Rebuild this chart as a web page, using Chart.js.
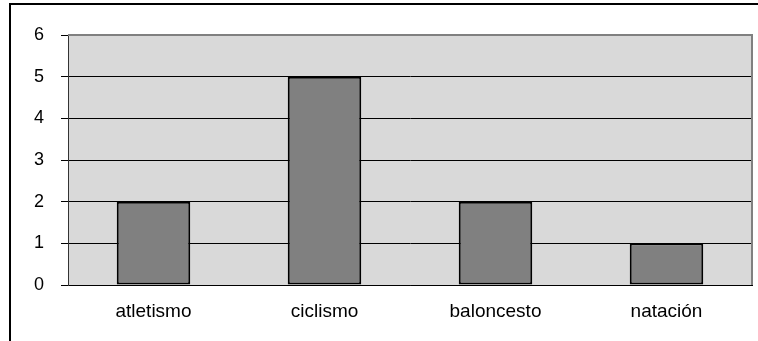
<!DOCTYPE html>
<html>
<head>
<meta charset="utf-8">
<script src="https://cdn.jsdelivr.net/npm/chart.js@4.4.0/dist/chart.umd.min.js"></script>
<style>
  html, body { margin: 0; padding: 0; background: #fff; }
  #wrap { width: 758px; height: 341px; }
</style>
</head>
<body>
<div id="wrap"><canvas id="myChart"></canvas></div>
<script>
const categories = ["atletismo", "ciclismo", "baloncesto", "natación"]
const values = [2, 5, 2, 1]
const yMin = 0
const yMax = 6

// plot background, frame and the outer border of the picture
const frame = {
    id: "frame",
    beforeDraw(chart) {
        const { ctx, chartArea: a } = chart
        ctx.save()
        ctx.fillStyle = "#d9d9d9"
        ctx.fillRect(a.left, a.top, a.right - a.left, a.bottom - a.top)
        ctx.restore()
    },
    afterDraw(chart) {
        const { ctx, chartArea: a } = chart
        ctx.save()
        ctx.strokeStyle = "#808080"
        ctx.lineWidth = 2
        ctx.beginPath()
        ctx.moveTo(a.left, a.top)
        ctx.lineTo(a.right, a.top)
        ctx.lineTo(a.right, a.bottom)
        ctx.stroke()
        ctx.strokeStyle = "#000"
        ctx.lineWidth = 2
        ctx.beginPath()
        ctx.moveTo(10, 341)
        ctx.lineTo(10, 4)
        ctx.lineTo(758, 4)
        ctx.stroke()
        ctx.restore()
    }
}

new Chart(document.getElementById("myChart"), {
    type: "bar",
    data: {
        labels: categories,
        datasets: [
            {
                label: "Serie 1",
                data: values,
                backgroundColor: "#808080",
                borderColor: "#000000",
                borderWidth: 2,
                borderSkipped: false,
                barPercentage: 0.43,
                categoryPercentage: 1.0
            }
        ]
    },
    options: {
        responsive: true,
        maintainAspectRatio: false,
        animation: false,
        layout: {
            padding: { left: 0, top: 35, right: 6, bottom: 0 }
        },
        plugins: {
            legend: { display: false },
            tooltip: { enabled: false }
        },
        scales: {
            x: {
                afterFit(scale) { scale.height = 56 },
                grid: { display: false, drawTicks: false },
                border: { display: true, color: "#000", width: 1 },
                ticks: {
                    color: "#000",
                    padding: 15,
                    maxRotation: 0,
                    font: { family: "'Liberation Sans', Arial, sans-serif", size: 19 }
                }
            },
            y: {
                min: yMin,
                max: yMax,
                afterFit(scale) { scale.width = 68 },
                grid: {
                    color: "#000",
                    lineWidth: 1,
                    tickLength: 7
                },
                border: { display: true, color: "#333", width: 1 },
                ticks: {
                    stepSize: 1,
                    color: "#000",
                    padding: 17,
                    font: { family: "'Liberation Sans', Arial, sans-serif", size: 18 }
                }
            }
        }
    },
    plugins: [frame]
})
</script>
</body>
</html>
